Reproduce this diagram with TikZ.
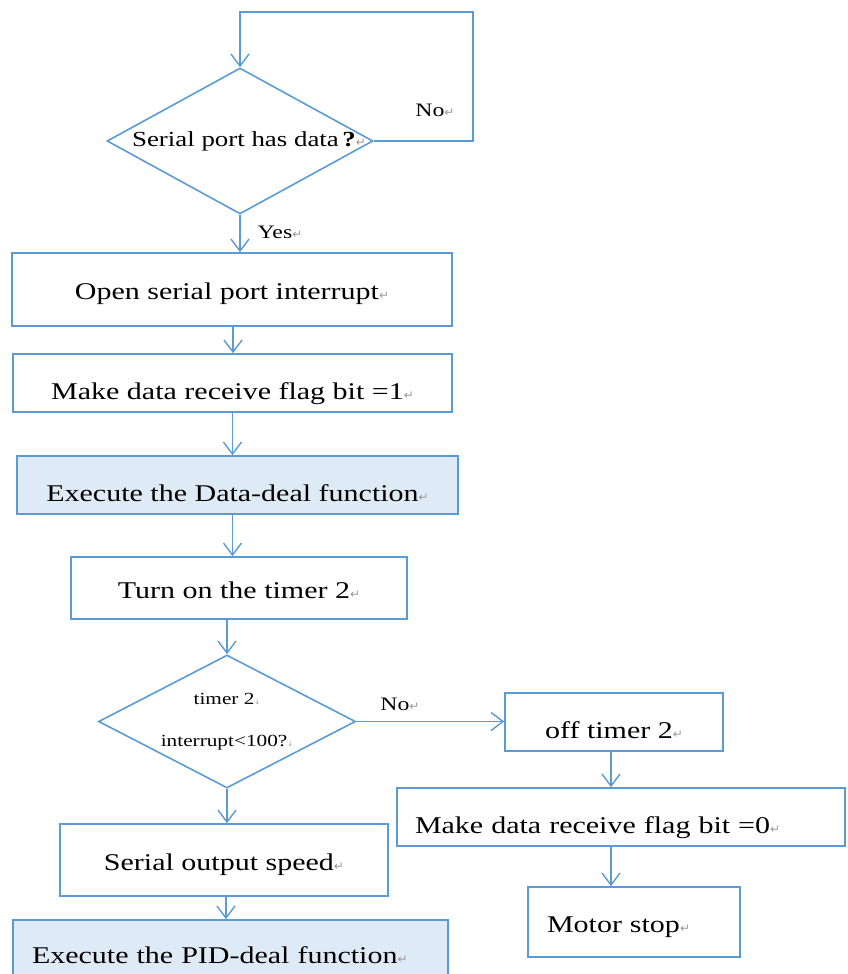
\documentclass[tikz,border=0pt]{standalone}
\usepackage{fontspec}
\setmainfont{Liberation Serif}[FakeStretch=1.25]
\newfontfamily\symf{DejaVu Sans}
\usetikzlibrary{arrows.meta,shapes.geometric}
\definecolor{ln}{HTML}{5B9BD5}
\definecolor{fl}{HTML}{DEEBF7}
\newcommand\rt{{\symf\fontsize{12}{12}\selectfont\textcolor{black!40}{↵}}}
\newcommand\lbr{{\symf\fontsize{7}{7}\selectfont\textcolor{black!40}{↓}}}
\begin{document}
\begin{tikzpicture}[x=1pt,y=-1pt,
  every node/.style={font=\fontsize{24}{28}\selectfont},
  box/.style={draw=ln, line width=1.6pt, rectangle, inner sep=0pt, text height=20pt, text depth=0pt},
  low/.style={text height=33pt},
  dia/.style={draw=ln, line width=1.6pt, diamond, aspect=1, inner sep=0pt},
  arr/.style={draw=ln, line width=1.4pt, -{Straight Barb[length=12pt,width=18pt]}},
  lbl/.style={font=\fontsize{19}{22}\selectfont, inner sep=0pt}
]
\useasboundingbox (0,0) rectangle (848,974);
\clip (0,0) rectangle (848,974);

\node[dia, minimum width=266pt, minimum height=146pt] (d1) at (240,141)
  {\makebox[0pt]{\hspace{18pt}\fontsize{21.5}{24}\selectfont Serial port has data\,\textbf{?}\rt}};
\node[box, minimum width=440pt, minimum height=73pt] (b1) at (232,289.5) {Open serial port interrupt\rt};
\node[box, low, minimum width=439pt, minimum height=58pt] (b2) at (232.5,383) {Make data receive flag bit =1\rt};
\node[box, low, fill=fl, minimum width=441pt, minimum height=58pt] (b3) at (237.5,485) {Execute the Data-deal function\rt};
\node[box, minimum width=336pt, minimum height=62pt] (b4) at (239,588) {Turn on the timer 2\rt};
\node[dia, minimum width=257pt, minimum height=133pt] (d2) at (227,721.5)
  {\makebox[0pt]{\fontsize{17}{20}\selectfont\begin{tabular}{@{}c@{}}timer 2\lbr\\[22pt] interrupt<100?\lbr\end{tabular}}};
\node[box, minimum width=328pt, minimum height=72pt] (b5) at (224,860) {Serial output speed\rt};
\node[box, fill=fl, align=left, text width=397pt, inner xsep=19pt, minimum height=70pt, text height=16pt] (b6) at (230.5,955) {Execute the PID-deal function\rt};
\node[box, low, minimum width=218pt, minimum height=58pt] (b7) at (614,722) {off timer 2\rt};
\node[box, low, align=left, text width=412pt, inner xsep=18pt, minimum height=58pt] (b8) at (621,817) {Make data receive flag bit =0\rt};
\node[box, align=left, text width=174pt, inner xsep=19pt, minimum height=70pt] (b9) at (634,922) {Motor stop\rt};

\node[lbl] (no1) at (435,110) {No\rt};
\node[lbl] (yes) at (280,232) {Yes\rt};
\node[lbl] (no2) at (400,704) {No\rt};

\coordinate (c1) at (473,12);
\draw[arr] (d1.east) -| (c1) -| (d1.north);
\draw[arr] (d1.south) -- (d1.south |- b1.north);
\draw[arr] ([xshift=1pt]b1.south) -- ([xshift=1pt]b1.south |- b2.north);
\draw[arr] (b2.south) -- (b2.south |- b3.north);
\draw[arr] (b2.south |- b3.south) -- (b2.south |- b4.north);
\draw[arr] (d2.north |- b4.south) -- (d2.north);
\draw[arr] (d2.south) -- (d2.south |- b5.north);
\draw[arr] ([xshift=2pt]b5.south) -- ([xshift=2pt]b5.south |- b6.north);
\draw[arr] (d2.east) -- (d2.east -| b7.west);
\draw[arr] ([xshift=-3pt]b7.south) -- ([xshift=-3pt]b7.south |- b8.north);
\draw[arr] ([xshift=-3pt]b7.south |- b8.south) -- ([xshift=-3pt]b7.south |- b9.north);
\end{tikzpicture}
\end{document}
